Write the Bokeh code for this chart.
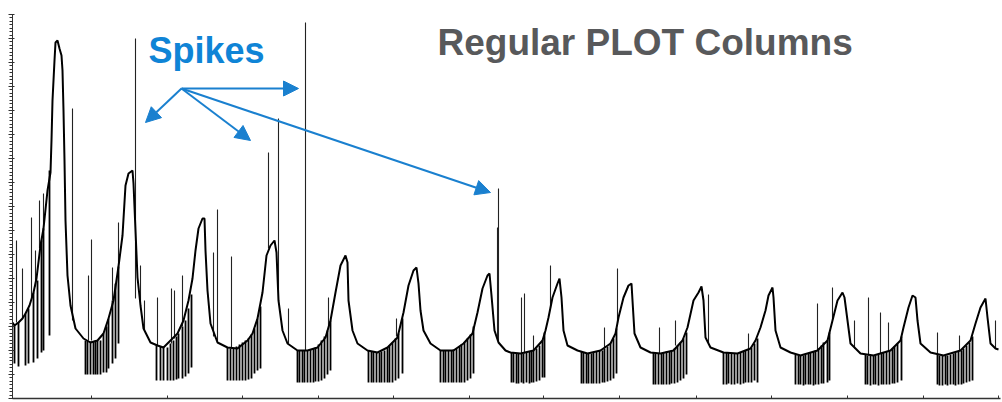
from bokeh.plotting import figure
from bokeh.models import (Range1d, SingleIntervalTicker, FixedTicker, Label, Arrow,
                          NormalHead, CustomJSTickFormatter)
from bokeh.embed import file_html
from bokeh.resources import INLINE

# ---- data (arbitrary signal units) ----
base_x = [0, 2, 6, 10, 13, 17, 21, 24, 28, 31, 35, 38, 39, 40, 42, 43, 45, 47, 49, 50, 51, 52, 53, 55, 58,
          63, 71, 78, 85, 91, 96, 101, 106, 110, 113, 116, 120, 121, 123, 125, 128, 131, 138, 145, 151,
          158, 165, 171, 176, 180, 183, 186, 190, 192, 193, 195, 198, 205, 215, 225, 235, 240, 245, 250,
          254, 258, 262, 264, 266, 270, 275, 285, 295, 305, 313, 318, 323, 328, 333, 335, 336, 340, 345,
          355, 365, 375, 385, 391, 396, 401, 404, 406, 408, 411, 418, 428, 441, 451, 460, 465, 470, 475,
          477, 479, 482, 486, 493, 498, 508, 521, 530, 533, 536, 540, 545, 547, 549, 551, 555, 565, 575,
          588, 598, 603, 606, 611, 616, 619, 620, 622, 628, 638, 648, 661, 670, 675, 681, 686, 689, 691,
          693, 698, 711, 725, 738, 743, 748, 753, 756, 760, 761, 763, 768, 778, 788, 805, 815, 820, 825,
          830, 832, 835, 838, 848, 861, 878, 888, 891, 896, 900, 903, 905, 908, 918, 931, 948, 958, 963,
          968, 973, 975, 978, 983, 986]
base_y = [76, 73, 76, 80, 85, 93, 106, 120, 153, 170, 208, 226, 258, 298, 338, 356, 358, 350, 343, 328,
          288, 238, 178, 123, 93, 70, 60, 56, 58, 65, 80, 98, 132, 163, 213, 225, 228, 215, 168, 121, 93,
          70, 56, 53, 51, 58, 65, 78, 98, 120, 148, 170, 180, 180, 148, 108, 75, 56, 51, 50, 58, 65, 80,
          106, 143, 153, 158, 146, 98, 68, 55, 48, 48, 51, 61, 78, 106, 133, 143, 136, 98, 68, 55, 48, 46,
          51, 61, 86, 113, 128, 131, 115, 88, 68, 55, 48, 48, 55, 65, 86, 110, 123, 125, 103, 68, 56, 48,
          46, 45, 48, 58, 68, 81, 101, 115, 120, 101, 68, 53, 48, 45, 48, 55, 65, 81, 101, 113, 115, 98,
          65, 51, 46, 45, 48, 58, 71, 98, 106, 112, 98, 61, 51, 46, 45, 50, 58, 71, 88, 103, 111, 101, 68,
          51, 46, 43, 48, 58, 78, 98, 106, 101, 78, 55, 45, 43, 48, 58, 71, 91, 103, 101, 78, 55, 46, 43,
          48, 58, 75, 91, 100, 81, 55, 50, 49]

down_x = [2, 6, 13, 16, 21, 25, 29, 31, 37,
          73, 75, 78, 81, 83, 85, 88, 91, 94, 96, 100, 103, 106,
          144, 148, 151, 155, 158, 161, 164, 166, 170, 173, 176, 179,
          215, 218, 221, 224, 227, 230, 233, 236, 239, 242, 245, 248,
          285, 287, 290, 292, 295, 298, 301, 303, 306, 309, 312, 315, 318,
          356, 359, 361, 364, 367, 369, 372, 375, 377, 380, 383, 386, 390,
          428, 431, 433, 436, 439, 441, 444, 447, 449, 452, 455, 458, 461,
          499, 501, 504, 506, 509, 511, 514, 517, 519, 521, 524, 527, 530, 532,
          569, 571, 574, 576, 579, 581, 584, 587, 590, 592, 595, 598, 601, 604,
          641, 643, 646, 649, 651, 654, 657, 659, 662, 665, 668, 671, 674,
          711, 714, 716, 719, 722, 725, 728, 731, 733, 736, 739, 742, 745,
          783, 786, 788, 791, 793, 796, 798, 801, 803, 806, 809, 811, 815, 817,
          853, 855, 858, 861, 863, 866, 869, 871, 874, 877, 880, 882, 885, 889,
          925, 927, 930, 933, 935, 938, 941, 943, 946, 949, 951, 954, 957, 960]
down_top = [73, 76, 85, 90, 106, 118, 158, 170, 228,
            58, 58, 57, 57, 58, 58, 58, 65, 72, 80, 98, 115, 132,
            53, 52, 51, 51, 55, 58, 62, 65, 72, 78, 90, 104,
            51, 50, 50, 52, 54, 56, 58, 60, 64, 70, 80, 92,
            48, 48, 48, 48, 48, 49, 50, 51, 54, 58, 62, 68, 78,
            48, 47, 47, 46, 46, 47, 48, 51, 53, 56, 60, 65, 80,
            48, 48, 48, 48, 48, 49, 50, 52, 54, 56, 60, 64, 72,
            46, 46, 45, 45, 45, 45, 46, 47, 47, 48, 50, 53, 58, 66,
            47, 46, 45, 45, 45, 46, 47, 48, 48, 50, 52, 55, 60, 70,
            46, 45, 45, 45, 46, 47, 47, 48, 50, 53, 56, 60, 66,
            46, 46, 46, 45, 45, 45, 46, 47, 48, 49, 51, 55, 60,
            44, 43, 43, 43, 44, 45, 46, 47, 48, 50, 53, 56, 58, 66,
            44, 43, 43, 43, 43, 44, 45, 46, 47, 48, 50, 52, 55, 62,
            44, 43, 43, 43, 43, 44, 45, 46, 47, 48, 50, 53, 56, 62]
down_bottom = [35, 32, 33, 35, 36, 40, 46, 48, 63,
               24, 24, 24, 24, 24, 24, 24, 26, 26, 30, 35, 40, 55,
               18, 18, 18, 18, 18, 18, 19, 20, 20, 22, 25, 31,
               18, 18, 18, 18, 18, 18, 18, 19, 20, 25, 28, 30,
               16, 16, 16, 16, 16, 16, 16, 17, 17, 18, 20, 24, 28,
               16, 16, 16, 16, 16, 16, 16, 16, 16, 16, 18, 20, 25,
               16, 16, 16, 16, 16, 16, 16, 16, 16, 16, 18, 20, 25,
               16, 16, 15, 15, 16, 15, 16, 15, 16, 16, 17, 18, 21, 21,
               15, 15, 15, 15, 15, 15, 15, 15, 16, 16, 17, 18, 20, 25,
               14, 14, 14, 14, 14, 14, 14, 15, 15, 16, 18, 20, 24,
               14, 14, 15, 14, 14, 15, 14, 15, 16, 16, 16, 18, 16,
               14, 14, 14, 13, 14, 14, 14, 13, 14, 14, 15, 15, 16, 18,
               14, 14, 13, 14, 14, 13, 14, 14, 14, 14, 15, 15, 16, 18,
               14, 13, 13, 14, 13, 14, 14, 13, 14, 14, 15, 16, 17, 18]

up_x = [4, 10, 19, 23, 27, 31, 60, 76, 79, 100, 106, 123, 128, 132, 145, 159, 162, 170, 201, 205, 219,
        256, 266, 293, 276, 316, 384, 485, 486, 509, 512, 521, 538, 592, 605, 647, 663, 696, 736, 805,
        820, 842, 856, 868, 876, 925, 947, 983]
up_base = [76, 80, 100, 112, 150, 170, 78, 58, 58, 98, 132, 100, 93, 68, 53, 55, 60, 72, 62, 56, 50,
           150, 98, 48, 55, 70, 62, 60, 56, 45, 45, 48, 90, 50, 75, 45, 53, 55, 49, 48, 78, 50, 43, 45,
           47, 44, 48, 50]
up_tip = [158, 130, 181, 148, 198, 205, 290, 123, 159, 131, 176, 360, 133, 98, 101, 110, 108, 123, 146,
          189, 142, 246, 280, 376, 90, 101, 80, 171, 210, 101, 105, 63, 133, 71, 130, 71, 78, 104, 65, 95,
          111, 78, 101, 86, 76, 66, 63, 78]

x_ticks = [79, 155, 230, 306, 381, 457, 531, 607, 684, 759, 835, 911, 986]

# arrows: start point and arrow tips (annotation)
arrow_start = (169, 310)
arrow_ends_x = [133, 286, 238, 478]
arrow_ends_y = [276, 310, 258, 206]

BLUE = "#1a80cf"
TEXT_BLUE = "#0f84d6"
GREY = "#58595b"

p = figure(width=1002, height=402, output_backend="svg", toolbar_location=None,
           x_range=Range1d(0, 988), y_range=Range1d(0, 384),
           min_border_left=12, min_border_right=2, min_border_top=14, min_border_bottom=4)
p.background_fill_color = "white"
p.border_fill_color = "white"
p.outline_line_color = None
p.xgrid.visible = False
p.ygrid.visible = False

empty = CustomJSTickFormatter(code="return ''")
yax = p.yaxis[0]
yax.ticker = SingleIntervalTicker(interval=24, num_minor_ticks=7)
yax.formatter = empty
yax.major_label_standoff = 0
yax.major_tick_out = 4
yax.major_tick_in = 2
yax.minor_tick_out = 3
yax.minor_tick_in = 0
yax.axis_line_color = "#333333"
yax.major_tick_line_color = "#333333"
yax.minor_tick_line_color = "#333333"

xax = p.xaxis[0]
xax.ticker = FixedTicker(ticks=x_ticks)
xax.formatter = empty
xax.major_label_standoff = 0
xax.major_tick_out = 0
xax.major_tick_in = 3
xax.minor_tick_line_color = None
xax.axis_line_color = "#333333"
xax.axis_line_width = 1.5
xax.major_tick_line_color = "#333333"

p.segment(x0=down_x, y0=down_top, x1=down_x, y1=down_bottom, line_color="black", line_width=1.8)
p.segment(x0=up_x, y0=up_base, x1=up_x, y1=up_tip, line_color="#222222", line_width=1.1)
p.line(base_x, base_y, line_color="black", line_width=2.0)

for ex, ey in zip(arrow_ends_x, arrow_ends_y):
    p.add_layout(Arrow(end=NormalHead(size=15, fill_color=BLUE, line_color=BLUE, line_width=1),
                       x_start=arrow_start[0], y_start=arrow_start[1], x_end=ex, y_end=ey,
                       line_color=BLUE, line_width=2))

p.add_layout(Label(x=136, y=348, text="Spikes", text_color=TEXT_BLUE, text_font="Liberation Sans",
                   text_font_style="bold", text_font_size="36px", text_baseline="alphabetic"))
p.add_layout(Label(x=425, y=356, text="Regular PLOT Columns", text_color=GREY,
                   text_font="Liberation Sans", text_font_style="bold", text_font_size="37px",
                   text_baseline="alphabetic"))

open("out.html", "w").write(file_html(p, INLINE))
